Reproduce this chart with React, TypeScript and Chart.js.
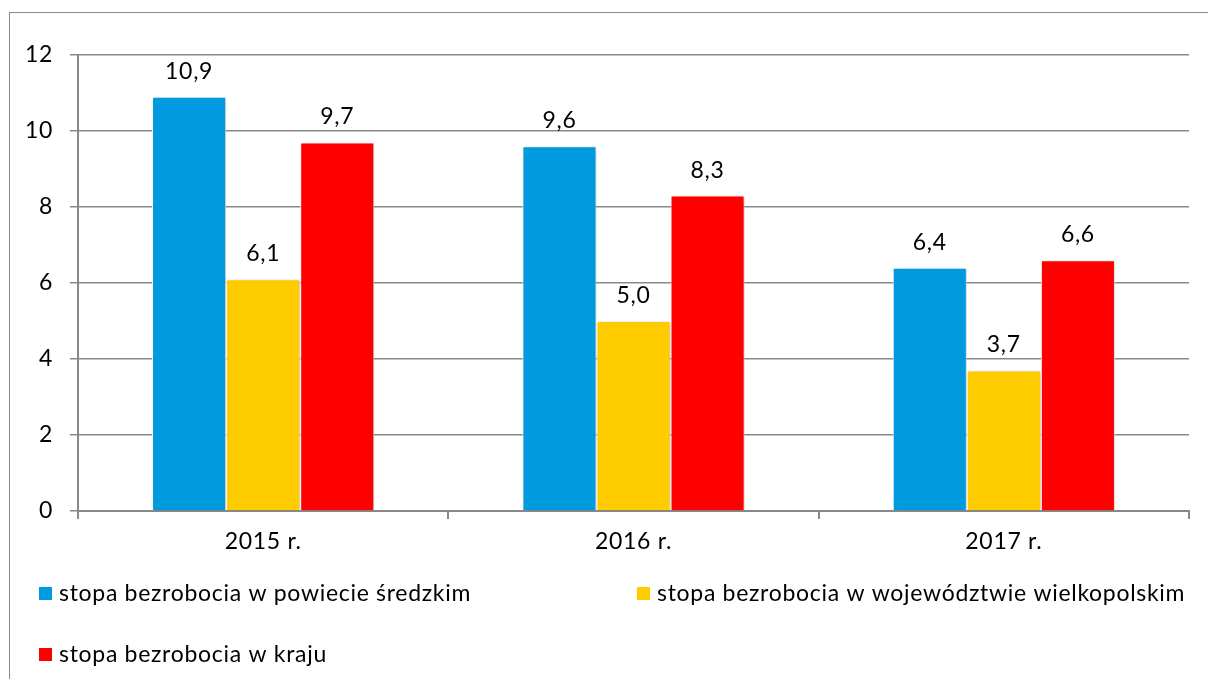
import React, { useEffect, useRef } from "react";
import { Chart, registerables } from "chart.js";

Chart.register(...registerables);

const categories = ["2015 r.", "2016 r.", "2017 r."];
const seriesNames = [
  "stopa bezrobocia w powiecie średzkim",
  "stopa bezrobocia w województwie wielkopolskim",
  "stopa bezrobocia w kraju",
];
const powiatValues = [10.9, 9.6, 6.4];
const wojewodztwoValues = [6.1, 5.0, 3.7];
const krajValues = [9.7, 8.3, 6.6];
const seriesColors = ["#009ADE", "#FFCC00", "#FF0000"];
const yTicks = [0, 2, 4, 6, 8, 10, 12];

const FONT = "Lato, 'Open Sans', sans-serif";
const FONT_SIZE = 23;
const SPACING = "0.7px";

const fmt = (v: number) => v.toFixed(1).replace(".", ",");

const spacingPlugin = {
  id: "letterSpacing",
  beforeDraw(chart: any) {
    (chart.ctx as any).letterSpacing = SPACING;
  },
};

const shadowPlugin = {
  id: "barShadow",
  beforeDatasetsDraw(chart: any) {
    const ctx = chart.ctx;
    ctx.save();
    ctx.shadowColor = "rgba(0,0,0,0.22)";
    ctx.shadowBlur = 4;
    ctx.shadowOffsetX = 2;
    ctx.shadowOffsetY = 1;
  },
  afterDatasetsDraw(chart: any) {
    chart.ctx.restore();
  },
};

const labelPlugin = {
  id: "valueLabels",
  afterDatasetsDraw(chart: any) {
    const ctx = chart.ctx;
    ctx.save();
    (ctx as any).letterSpacing = SPACING;
    ctx.font = `${FONT_SIZE}px ${FONT}`;
    ctx.fillStyle = "#000";
    ctx.textAlign = "center";
    ctx.textBaseline = "alphabetic";
    chart.data.datasets.forEach((ds: any, di: number) => {
      const meta = chart.getDatasetMeta(di);
      meta.data.forEach((bar: any, i: number) => {
        ctx.fillText(fmt(ds.data[i]), bar.x, bar.y - 18);
      });
    });
    ctx.restore();
  },
};

const legendPlugin = {
  id: "customLegend",
  afterDraw(chart: any) {
    const ctx = chart.ctx;
    const items = [
      { x: 39, y: 593 },
      { x: 637, y: 593 },
      { x: 39, y: 654 },
    ];
    ctx.save();
    (ctx as any).letterSpacing = SPACING;
    ctx.font = `${FONT_SIZE}px ${FONT}`;
    ctx.textAlign = "left";
    ctx.textBaseline = "middle";
    chart.data.datasets.forEach((ds: any, i: number) => {
      const p = items[i];
      ctx.fillStyle = ds.backgroundColor;
      ctx.fillRect(p.x, p.y - 6, 13, 13);
      ctx.fillStyle = "#000";
      ctx.fillText(ds.label, p.x + 20, p.y + 1);
    });
    ctx.restore();
  },
};

export default function App() {
  const ref = useRef<HTMLCanvasElement>(null);

  useEffect(() => {
    if (!ref.current) return;
    const values = [powiatValues, wojewodztwoValues, krajValues];
    const chart = new Chart(ref.current, {
      type: "bar",
      data: {
        labels: categories,
        datasets: seriesNames.map((name, i) => ({
          label: name,
          data: values[i],
          backgroundColor: seriesColors[i],
          borderColor: "#FFFFFF",
          borderWidth: 1,
          categoryPercentage: 0.6,
          barPercentage: 1.0,
        })),
      },
      options: {
        responsive: false,
        animation: false,
        layout: { padding: { left: 0, top: 55, right: 19, bottom: 108 } },
        plugins: {
          legend: { display: false },
          tooltip: { enabled: false },
        },
        scales: {
          x: {
            afterFit: (s: any) => {
              s.height = 60;
            },
            grid: {
              display: true,
              drawOnChartArea: false,
              drawTicks: true,
              tickLength: 8,
              color: "#888888",
              lineWidth: 2,
              offset: true,
            },
            border: { display: true, color: "#888888", width: 2 },
            ticks: {
              color: "#000",
              font: { family: FONT, size: FONT_SIZE },
              padding: 9,
            },
          },
          y: {
            min: 0,
            max: 12,
            afterFit: (s: any) => {
              s.width = 78;
            },
            afterBuildTicks: (s: any) => {
              s.ticks = yTicks.map((v) => ({ value: v }));
            },
            grid: {
              color: "#888888",
              lineWidth: 1.5,
              tickLength: 8,
              drawTicks: true,
            },
            border: { display: true, color: "#888888", width: 2 },
            ticks: {
              color: "#000",
              font: { family: FONT, size: FONT_SIZE },
              padding: 17,
              callback: (v: any) => String(v),
            },
          },
        },
      },
      plugins: [spacingPlugin, shadowPlugin, labelPlugin, legendPlugin],
    });
    return () => chart.destroy();
  }, []);

  return (
    <div
      style={{
        position: "fixed",
        left: 0,
        top: 0,
        width: 1208,
        height: 679,
        overflow: "hidden",
        background: "#fff",
      }}
    >
      <div
        style={{
          position: "absolute",
          left: 9,
          top: 12,
          width: 1400,
          height: 900,
          border: "1px solid #8a8a8a",
          boxSizing: "border-box",
        }}
      />
      <canvas
        ref={ref}
        width={1208}
        height={679}
        style={{ position: "absolute", left: 0, top: 0, width: 1208, height: 679 }}
      />
    </div>
  );
}
